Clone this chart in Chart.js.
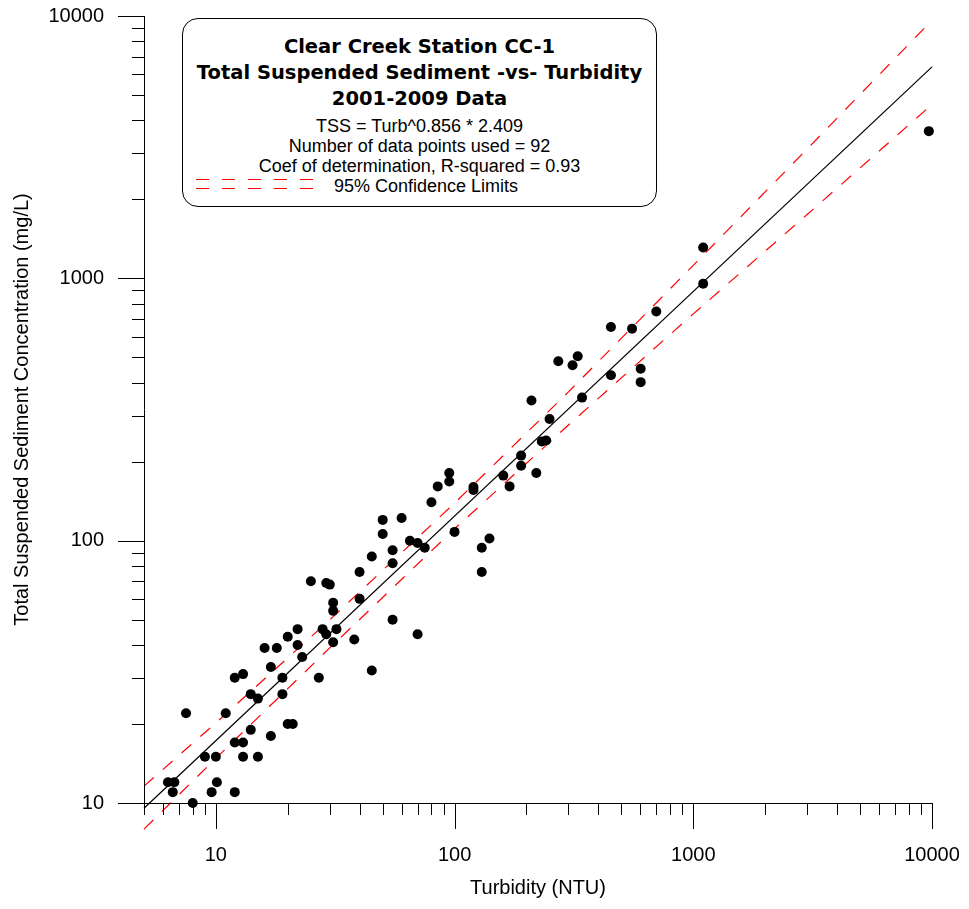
<!DOCTYPE html>
<html>
<head>
<meta charset="utf-8">
<script src="https://cdn.jsdelivr.net/npm/chart.js@4/dist/chart.umd.min.js"></script>
<style>
  body { margin: 0; background: #fff; }
  .wrap { position: relative; width: 969px; height: 909px; }
  .box {
    position: absolute; left: 182px; top: 18px; width: 473px; height: 187px;
    border: 1px solid #000; border-radius: 16px; background: #fff;
    font-family: "Liberation Sans", Arial, sans-serif; color: #000; text-align: center;
  }
  .box .b { font-family: "DejaVu Sans", Verdana, sans-serif; font-weight: bold; font-size: 19.5px; line-height: 26px; }
  .box .r { font-size: 18px; line-height: 20px; }
  .b1 { margin-top: 15px; }
  .r1 { margin-top: 4px; }
  .leg { position: absolute; left: 0; top: 157px; width: 100%; height: 20px; }
  .dash { position: absolute; left: 13px; width: 118px; height: 1px;
    background: repeating-linear-gradient(to right, #f00 0 13px, transparent 13px 26px); }
  .leg span { position: absolute; left: 151px; top: 0; font-size: 18px; line-height: 20px; }
</style>
</head>
<body>
<div class="wrap">
  <canvas id="myChart" width="969" height="909"></canvas>
  <div class="box">
    <div class="b b1">Clear Creek Station CC-1</div>
    <div class="b">Total Suspended Sediment -vs- Turbidity</div>
    <div class="b">2001-2009 Data</div>
    <div class="r r1">TSS = Turb^0.856 * 2.409</div>
    <div class="r">Number of data points used = 92</div>
    <div class="r">Coef of determination, R-squared = 0.93</div>
    <div class="leg">
      <div class="dash" style="top:3px"></div>
      <div class="dash" style="top:12px"></div>
      <span>95% Confidence Limits</span>
    </div>
  </div>
</div>
<script>
// measured samples
const turbidity = [16, 18, 22, 17, 23, 12, 13, 19, 27, 14, 15, 19, 7.5, 11, 14, 20, 21, 17, 12, 13,
  9, 10, 13, 15, 6.3, 6.7, 10.1, 6.6, 9.6, 12, 8, 25, 22, 20, 29, 30, 28, 29, 32, 31,
  38, 45, 31, 31, 40, 40, 45, 55, 55, 55, 70, 50, 50, 60, 65, 70, 75, 80, 100, 140,
  130, 130, 95, 95, 85, 120, 120, 160, 170, 190, 190, 220, 232, 242, 250, 210, 272, 312, 328, 342,
  452, 452, 554, 602, 602, 700, 1100, 1100, 9700]
const tss = [39, 39, 40, 33, 36, 30, 31, 30, 30, 26, 25, 26, 22, 22, 19, 20, 20, 18, 17, 17,
  15, 15, 15, 15, 12, 12, 12, 11, 11, 11, 10, 70, 46, 43, 69, 68, 46, 44, 46, 41,
  42, 32, 58, 54, 60, 76, 87, 92, 82, 50, 44, 120, 106, 122, 100, 98, 94, 140, 108, 102,
  94, 76, 181, 168, 161, 160, 156, 177, 161, 211, 193, 181, 239, 241, 291, 342, 483, 466, 505, 351,
  652, 427, 643, 452, 402, 748, 1310, 954, 3640]

// regression line (TSS = Turb^0.856 * 2.409) end points
const fitTurb = [5, 10000]
const fitTss = [9.55, 6395]

// 95% confidence limits
const bandTurb = [5, 10, 30, 100, 300, 1000, 3000, 10000]
const upperTss = [11.6, 20.2, 49.9, 139, 369, 1121, 3113, 9630]
const lowerTss = [7.95, 14.8, 39.0, 111, 276, 732, 1751, 4600]

const majorTicks = [10, 100, 1000, 10000]
const FONT = "'Liberation Sans', Arial, sans-serif"

const pts = (xs, ys) => xs.map((x, i) => ({ x: x, y: ys[i] }))

// axis lines and tick marks, placed through the chart's scales
const axisPlugin = {
  id: "axisTicks",
  afterDraw(chart) {
    const { ctx, chartArea, scales } = chart
    const xs = scales.x, ys = scales.y
    const r = v => Math.round(v) + 0.5
    ctx.save()
    ctx.strokeStyle = "#000"
    ctx.lineWidth = 1
    ctx.beginPath()
    ctx.moveTo(r(chartArea.left), chartArea.top)
    ctx.lineTo(r(chartArea.left), chartArea.bottom)
    ctx.moveTo(chartArea.left, r(chartArea.bottom))
    ctx.lineTo(chartArea.right, r(chartArea.bottom))
    // x ticks
    for (let d = 1; d <= 1000; d *= 10) {
      for (let m = 1; m <= 9; m++) {
        const v = m * d
        if (v < 5) continue
        const px = r(xs.getPixelForValue(v))
        const len = m === 1 ? 26 : 12
        ctx.moveTo(px, chartArea.bottom)
        ctx.lineTo(px, chartArea.bottom + len)
      }
    }
    const px = r(xs.getPixelForValue(10000))
    ctx.moveTo(px, chartArea.bottom)
    ctx.lineTo(px, chartArea.bottom + 26)
    // y ticks
    for (let d = 10; d <= 1000; d *= 10) {
      for (let m = 1; m <= 9; m++) {
        const py = r(ys.getPixelForValue(m * d))
        const len = m === 1 ? 26 : 12
        ctx.moveTo(chartArea.left - len, py)
        ctx.lineTo(chartArea.left, py)
      }
    }
    const py = r(ys.getPixelForValue(10000))
    ctx.moveTo(chartArea.left - 26, py)
    ctx.lineTo(chartArea.left, py)
    ctx.stroke()
    ctx.restore()
  }
}

const config = {
  type: "scatter",
  data: {
    datasets: [
      {
        label: "Samples",
        data: pts(turbidity, tss),
        backgroundColor: "#000",
        borderWidth: 0,
        pointRadius: 5,
        clip: false
      },
      {
        label: "Fit",
        data: pts(fitTurb, fitTss),
        showLine: true,
        borderColor: "#000",
        borderWidth: 1.2,
        pointRadius: 0,
        clip: false
      },
      {
        label: "95% Confidence Limits",
        data: pts(bandTurb, upperTss),
        showLine: true,
        borderColor: "#ff0000",
        borderWidth: 1.2,
        borderDash: [13, 12],
        pointRadius: 0,
        clip: false
      },
      {
        label: "95% Confidence Limits (lower)",
        data: pts(bandTurb, lowerTss),
        showLine: true,
        borderColor: "#ff0000",
        borderWidth: 1.2,
        borderDash: [13, 12],
        pointRadius: 0,
        clip: false
      }
    ]
  },
  options: {
    responsive: false,
    animation: false,
    layout: { padding: { top: 16, right: 37, left: 0, bottom: 0 } },
    plugins: { legend: { display: false }, tooltip: { enabled: false } },
    scales: {
      x: {
        type: "logarithmic",
        min: 5,
        max: 10000,
        afterFit: s => { s.height = 106 },
        grid: { display: false, drawTicks: true, tickLength: 40 },
        border: { display: false },
        ticks: {
          autoSkip: false, maxRotation: 0, padding: 0, color: "#000",
          font: { family: FONT, size: 20 },
          callback: v => majorTicks.includes(v) ? String(v) : ""
        },
        title: {
          display: true, text: "Turbidity (NTU)", color: "#000",
          font: { family: FONT, size: 20 }, padding: { top: 0, bottom: 9 }
        }
      },
      y: {
        type: "logarithmic",
        min: 10,
        max: 10000,
        afterFit: s => { s.width = 144 },
        grid: { display: false, drawTicks: true, tickLength: 40 },
        border: { display: false },
        ticks: {
          autoSkip: false, padding: 0, color: "#000",
          font: { family: FONT, size: 20 },
          callback: v => majorTicks.includes(v) ? String(v) : ""
        },
        title: {
          display: true, text: "Total Suspended Sediment Concentration (mg/L)", color: "#000",
          font: { family: FONT, size: 20 }, padding: { top: 10, bottom: 0 }
        }
      }
    }
  },
  plugins: [axisPlugin]
}

const chart = new Chart(document.getElementById("myChart"), config)
</script>
</body>
</html>
